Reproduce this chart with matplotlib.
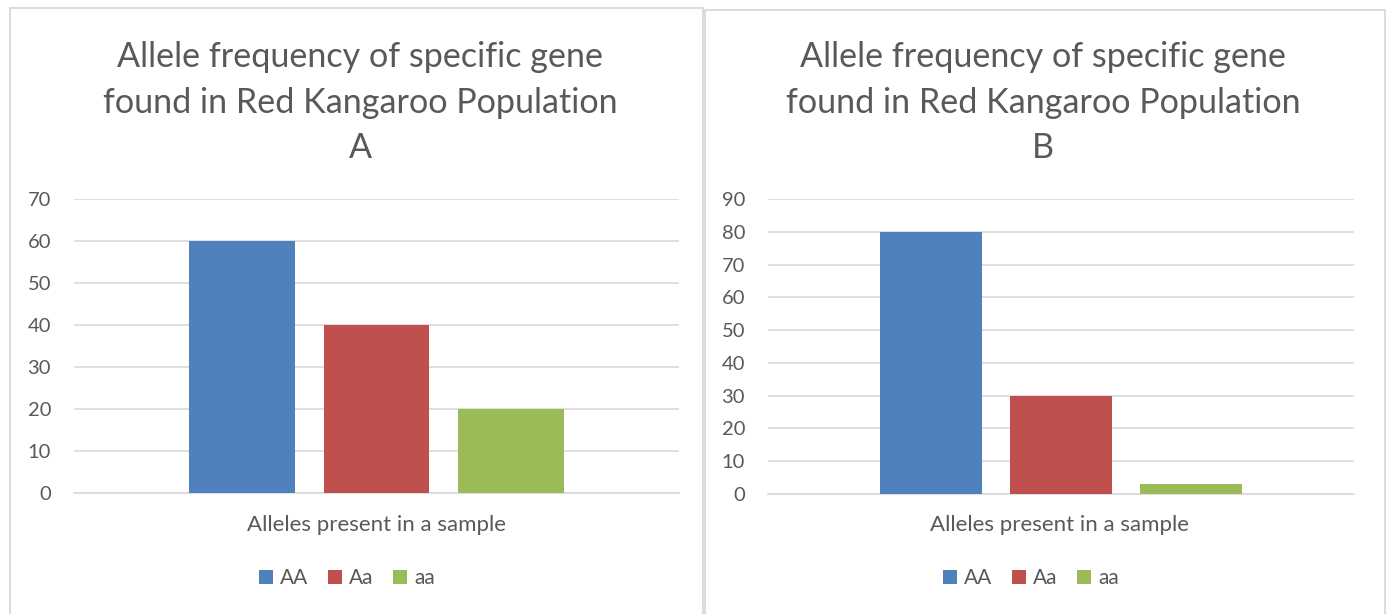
import matplotlib
matplotlib.use("Agg")
import numpy as np
import matplotlib.pyplot as plt
from matplotlib.patches import Rectangle, Patch

# ---------------- data ----------------
categories = ["AA", "Aa", "aa"]
values_a = [60, 40, 20]
values_b = [80, 30, 3]
yticks_a = [0, 10, 20, 30, 40, 50, 60, 70]
yticks_b = [0, 10, 20, 30, 40, 50, 60, 70, 80, 90]
title_lines = ["Allele frequency of specific gene", "found in Red Kangaroo Population"]
panel_letters = ["A", "B"]
xlabel_text = "Alleles present in a sample"
bar_colors = ["#4f81bd", "#c0504d", "#9bbb59"]

# ---------------- style ----------------
W, H = 1387, 614
TXT = "#595959"
GRID = "#d9d9d9"
plt.rcParams['font.family'] = ['Lato', 'DejaVu Sans']

fig = plt.figure(figsize=(W / 100, H / 100), dpi=100)
fig.patch.set_facecolor("white")
renderer = fig.canvas.get_renderer()


def fx(px):
    return px / W


def fy(py):
    return 1 - py / H


def fit(t, target_w):
    for _ in range(4):
        w = t.get_window_extent(renderer).width
        t.set_fontsize(t.get_fontsize() * target_w / w)


def panel(px0, py0, px1, ax_box, values, yticks, letter, title_cx, title_w1, title_w2,
          xlabel_cx, legend_cx):
    # panel border
    fig.add_artist(Rectangle((fx(px0), fy(700)), fx(px1) - fx(px0), fy(py0) - fy(700),
                             transform=fig.transFigure, fill=False, ec=GRID, lw=1.3))
    l, r, t, b = ax_box
    ax = fig.add_axes([fx(l), fy(b), fx(r) - fx(l), fy(t) - fy(b)])
    n = len(values)
    step = 0.222
    offs = (np.arange(n) - (n - 1) / 2) * step
    ax.bar(offs, values, width=0.175, color=bar_colors, zorder=3)
    ax.set_xlim(-0.5, 0.5)
    ax.set_ylim(yticks[0], yticks[-1])
    ax.set_yticks(yticks)
    ax.set_yticklabels([str(v) for v in yticks])
    ax.set_xticks([])
    ax.yaxis.grid(True, color=GRID, lw=1.2, zorder=0)
    ax.set_axisbelow(True)
    for s in ["top", "right", "left"]:
        ax.spines[s].set_visible(False)
    ax.spines["bottom"].set_color(GRID)
    ax.spines["bottom"].set_linewidth(1.2)
    ax.tick_params(axis="y", length=0, pad=16.5, labelsize=14.5, labelcolor=TXT)
    ax.patch.set_alpha(0)

    # title
    t1 = fig.text(fx(title_cx), fy(67), title_lines[0], ha="center", va="baseline",
                  color=TXT, fontsize=26)
    fit(t1, title_w1)
    t2 = fig.text(fx(title_cx), fy(113), title_lines[1], ha="center", va="baseline",
                  color=TXT, fontsize=26)
    fit(t2, title_w2)
    fig.text(fx(title_cx), fy(158), letter, ha="center", va="baseline",
             color=TXT, fontsize=t1.get_fontsize())

    # x label (category name)
    xl = fig.text(fx(xlabel_cx), fy(531), xlabel_text, ha="center", va="baseline",
                  color=TXT, fontsize=14)
    fit(xl, 259)

    handles = [Patch(facecolor=c, edgecolor="none") for c in bar_colors]
    ax.legend(handles, categories, ncol=3, loc="center",
              bbox_to_anchor=(fx(legend_cx), fy(578)), bbox_transform=fig.transFigure,
              frameon=False, fontsize=15, labelcolor=TXT,
              handlelength=0.67, handleheight=0.67, handletextpad=0.35,
              columnspacing=0.95, borderpad=0, borderaxespad=0)
    return ax


panel(10, 8, 703, (74, 679, 199, 493), values_a, yticks_a, panel_letters[0],
      360, 486, 516, 376.5, 347)
panel(705, 10, 1385, (768, 1354, 199, 494), values_b, yticks_b, panel_letters[1],
      1043, 486, 515, 1060, 1031)

fig.savefig("out.png", dpi=100, facecolor="white")
